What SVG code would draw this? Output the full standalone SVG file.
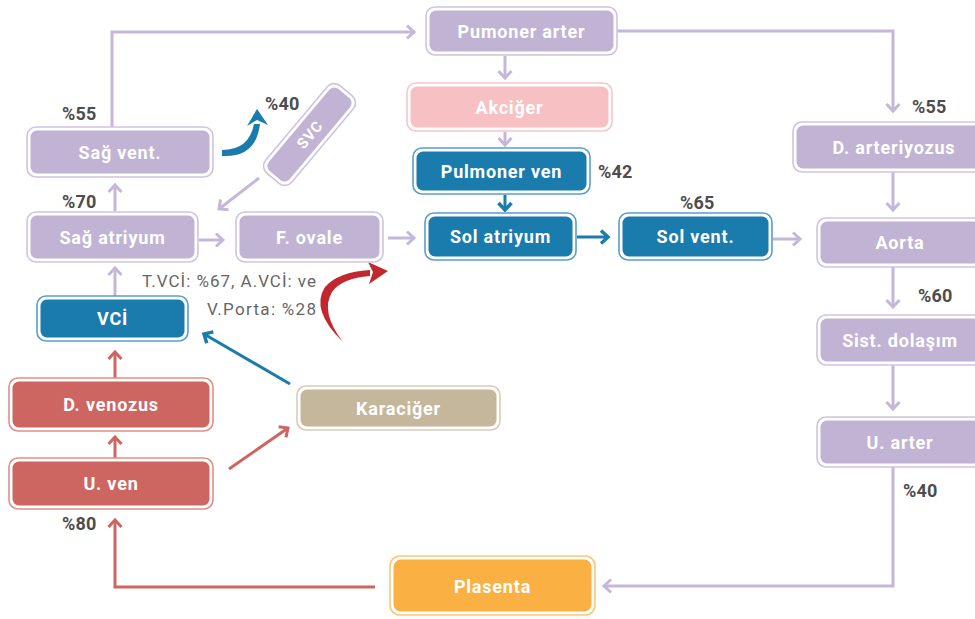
<svg xmlns="http://www.w3.org/2000/svg" width="975" height="619" viewBox="0 0 975 619">
<style>
.bo{fill:#fff;stroke-width:1.6}
.pu .bo{stroke:#cfc4e0}.pu .in{fill:#c1b3d4}
.pk .bo{stroke:#f7c6c9}.pk .in{fill:#f7c1c4}
.bl .bo{stroke:#5a9fc9}.bl .in{fill:#1a7bad}
.rd .bo{stroke:#de8f8b}.rd .in{fill:#cd6661}
.tn .bo{stroke:#d6ccb9}.tn .in{fill:#c5b79c}
.or .bo{stroke:#fcc777}.or .in{fill:#fbb043}
.lbl{font-family:Roboto,"Liberation Sans",sans-serif;font-weight:700;font-size:18px;fill:#fff;text-anchor:middle;letter-spacing:0.8px}
.pct{font-family:Roboto,"Liberation Sans",sans-serif;font-weight:700;font-size:18px;fill:#4d4d4d;letter-spacing:0.2px}
.ann{font-family:Roboto,"Liberation Sans",sans-serif;font-size:17px;fill:#666}
.c{fill:none;stroke-width:3}
.cp{stroke:#c4b7d8}.cb{stroke:#1a7bad}.cr{stroke:#cd6661}
</style>
<defs>
<marker id="ap" markerUnits="userSpaceOnUse" markerWidth="20" markerHeight="20" viewBox="-10 -10 20 20" refX="0" refY="0" orient="auto"><path d="M-7,-6.5 L0,0 L-7,6.5" fill="none" stroke="#c4b7d8" stroke-width="3"/></marker>
<marker id="ab" markerUnits="userSpaceOnUse" markerWidth="20" markerHeight="20" viewBox="-10 -10 20 20" refX="0" refY="0" orient="auto"><path d="M-7,-6.5 L0,0 L-7,6.5" fill="none" stroke="#1a7bad" stroke-width="3.5"/></marker>
<marker id="ar" markerUnits="userSpaceOnUse" markerWidth="20" markerHeight="20" viewBox="-10 -10 20 20" refX="0" refY="0" orient="auto"><path d="M-7,-6.5 L0,0 L-7,6.5" fill="none" stroke="#cd6661" stroke-width="3"/></marker>
</defs>

<g id="connectors">
<path class="c cp" d="M112,127 V32 H414" marker-end="url(#ap)"/>
<path class="c cp" d="M505,56 V78" marker-end="url(#ap)"/>
<path class="c cp" d="M505,132 V145" marker-end="url(#ap)"/>
<path class="c cb" d="M505,195 V210" marker-end="url(#ab)"/>
<path class="c cb" d="M577,237 H608" marker-end="url(#ab)"/>
<path class="c cp" d="M773,239 H800" marker-end="url(#ap)"/>
<path class="c cp" d="M388,238 H414" marker-end="url(#ap)"/>
<path class="c cp" d="M199,240 H223" marker-end="url(#ap)"/>
<path class="c cp" d="M115,211 V185" marker-end="url(#ap)"/>
<path class="c cp" d="M259,178 L219,209" marker-end="url(#ap)"/>
<path class="c cp" d="M115,296 V268" marker-end="url(#ap)"/>
<path class="c cr" d="M115,378 V352" marker-end="url(#ar)"/>
<path class="c cr" d="M115,458 V437" marker-end="url(#ar)"/>
<path class="c cr" d="M229,469 L288,428" marker-end="url(#ar)"/>
<path class="c cb" d="M290,384 L204,334" marker-end="url(#ab)"/>
<path class="c cr" d="M375,587 H115 V520" marker-end="url(#ar)"/>
<path class="c cp" d="M617,31 H893 V111" marker-end="url(#ap)"/>
<path class="c cp" d="M893,172 V210" marker-end="url(#ap)"/>
<path class="c cp" d="M893,267 V307" marker-end="url(#ap)"/>
<path class="c cp" d="M893,365 V409" marker-end="url(#ap)"/>
<path class="c cp" d="M893,467 V586 H604" marker-end="url(#ap)"/>
<path d="M222,150 Q249,150 254,124 L260,124 Q256,158 222,156 Z" fill="#1a7bad"/>
<path d="M257,109 L268,125 L257,120 L247,126 Z" fill="#1a7bad"/>
<path d="M343,342 Q310,310 325,287 Q338,272 370,270 L370,276 Q342,278 332,292 Q320,312 343,342 Z" fill="#c1272d"/>
<path d="M388,271 L368,262 L373,272 L369,284 Z" fill="#c1272d"/>
</g>

<g id="n-pa" class="pu"><rect class="bo" x="426" y="7" width="191" height="48" rx="9"/><rect class="in" x="429.5" y="10.5" width="184" height="41" rx="6.5"/><text class="lbl" x="521.5" y="37.5">Pumoner arter</text></g>
<g id="n-ak" class="pk"><rect class="bo" x="407" y="83" width="205" height="48" rx="9"/><rect class="in" x="410.5" y="86.5" width="198" height="41" rx="6.5"/><text class="lbl" x="509.5" y="113.5">Akciğer</text></g>
<g id="n-pv" class="bl"><rect class="bo" x="413" y="148" width="177" height="46" rx="9"/><rect class="in" x="416.5" y="151.5" width="170" height="39" rx="6.5"/><text class="lbl" x="501.5" y="177.5">Pulmoner ven</text></g>
<g id="n-sa" class="bl"><rect class="bo" x="425" y="213" width="151" height="47" rx="9"/><rect class="in" x="428.5" y="216.5" width="144" height="40" rx="6.5"/><text class="lbl" x="500.5" y="243">Sol atriyum</text></g>
<g id="n-sv" class="bl"><rect class="bo" x="619" y="213" width="153" height="47" rx="9"/><rect class="in" x="622.5" y="216.5" width="146" height="40" rx="6.5"/><text class="lbl" x="695.5" y="243">Sol vent.</text></g>
<g id="n-da" class="pu"><rect class="bo" x="793" y="122" width="200" height="50" rx="9"/><rect class="in" x="796.5" y="125.5" width="193" height="43" rx="6.5"/><text class="lbl" x="894" y="153.5">D. arteriyozus</text></g>
<g id="n-ao" class="pu"><rect class="bo" x="817" y="218" width="166" height="49" rx="9"/><rect class="in" x="820.5" y="221.5" width="159" height="42" rx="6.5"/><text class="lbl" x="900" y="249">Aorta</text></g>
<g id="n-sd" class="pu"><rect class="bo" x="817" y="315" width="166" height="50" rx="9"/><rect class="in" x="820.5" y="318.5" width="159" height="43" rx="6.5"/><text class="lbl" x="900" y="346.5">Sist. dolaşım</text></g>
<g id="n-ua" class="pu"><rect class="bo" x="817" y="417" width="166" height="50" rx="9"/><rect class="in" x="820.5" y="420.5" width="159" height="43" rx="6.5"/><text class="lbl" x="900" y="448.5">U. arter</text></g>
<g id="n-sgv" class="pu"><rect class="bo" x="27" y="127" width="186" height="50" rx="9"/><rect class="in" x="30.5" y="130.5" width="179" height="43" rx="6.5"/><text class="lbl" x="120" y="158.5">Sağ vent.</text></g>
<g id="n-sga" class="pu"><rect class="bo" x="27" y="212" width="171" height="50" rx="9"/><rect class="in" x="30.5" y="215.5" width="164" height="43" rx="6.5"/><text class="lbl" x="112.5" y="243.5">Sağ atriyum</text></g>
<g id="n-fo" class="pu"><rect class="bo" x="236" y="212" width="147" height="50" rx="9"/><rect class="in" x="239.5" y="215.5" width="140" height="43" rx="6.5"/><text class="lbl" x="309.5" y="243.5">F. ovale</text></g>
<g id="n-svc" class="pu" transform="translate(309.5,134.5) rotate(-50)"><rect class="bo" x="-57" y="-17" width="114" height="34" rx="9"/><rect class="in" x="-53.5" y="-13.5" width="107" height="27" rx="6.5"/><text class="lbl" x="0" y="5.5" style="font-size:15px">SVC</text></g>
<g id="n-vci" class="bl"><rect class="bo" x="37" y="296" width="151" height="45" rx="9"/><rect class="in" x="40.5" y="299.5" width="144" height="38" rx="6.5"/><text class="lbl" x="112.5" y="325">VCİ</text></g>
<g id="n-dv" class="rd"><rect class="bo" x="9" y="378" width="204" height="53" rx="9"/><rect class="in" x="12.5" y="381.5" width="197" height="46" rx="6.5"/><text class="lbl" x="111" y="411">D. venozus</text></g>
<g id="n-uv" class="rd"><rect class="bo" x="9" y="458" width="204" height="51" rx="9"/><rect class="in" x="12.5" y="461.5" width="197" height="44" rx="6.5"/><text class="lbl" x="111" y="490">U. ven</text></g>
<g id="n-kc" class="tn"><rect class="bo" x="297" y="386" width="203" height="44" rx="9"/><rect class="in" x="300.5" y="389.5" width="196" height="37" rx="6.5"/><text class="lbl" x="398.5" y="414.5">Karaciğer</text></g>
<g id="n-pl" class="or"><rect class="bo" x="390" y="556" width="205" height="59" rx="10"/><rect class="in" x="393.5" y="559.5" width="198" height="52" rx="7.5"/><text class="lbl" x="492.5" y="593">Plasenta</text></g>

<g id="labels">
<text class="pct" x="62" y="120">%55</text>
<text class="pct" x="265" y="110">%40</text>
<text class="pct" x="62" y="208">%70</text>
<text class="pct" x="598" y="178">%42</text>
<text class="pct" x="680" y="209">%65</text>
<text class="pct" x="912" y="113">%55</text>
<text class="pct" x="918" y="302">%60</text>
<text class="pct" x="903" y="497">%40</text>
<text class="pct" x="62" y="530">%80</text>
<text class="ann" x="142" y="287" textLength="174" lengthAdjust="spacing">T.VCİ: %67, A.VCİ: ve</text>
<text class="ann" x="207" y="315" textLength="109" lengthAdjust="spacing">V.Porta: %28</text>
</g>
</svg>
